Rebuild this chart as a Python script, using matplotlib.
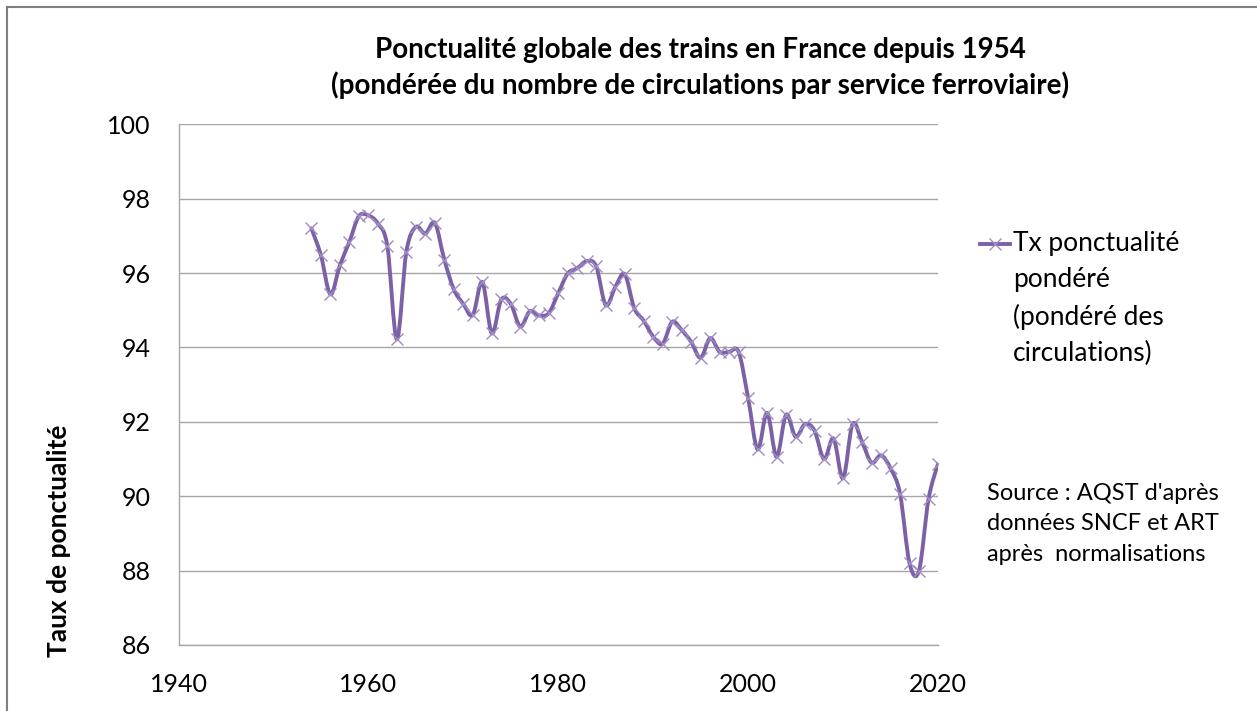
import numpy as np
import matplotlib
matplotlib.use("Agg")
import matplotlib.pyplot as plt
from matplotlib.path import Path
from matplotlib.patches import PathPatch
from matplotlib.lines import Line2D

# ---- data ----
years = list(range(1954, 2021))
values = [97.2, 96.48, 95.43, 96.21, 96.84, 97.53, 97.55, 97.33, 96.72, 94.22,
          96.57, 97.24, 97.06, 97.35, 96.36, 95.56, 95.17, 94.87, 95.76, 94.38,
          95.29, 95.17, 94.56, 94.97, 94.86, 94.92, 95.46, 95.99, 96.13, 96.32,
          96.18, 95.14, 95.62, 95.97, 95.06, 94.72, 94.29, 94.1, 94.69, 94.47,
          94.15, 93.72, 94.25, 93.88, 93.88, 93.88, 92.64, 91.26, 92.24, 91.06,
          92.19, 91.6, 91.94, 91.76, 91.0, 91.55, 90.48, 91.94, 91.46, 90.9,
          91.1, 90.75, 90.07, 88.2, 88.0, 89.92, 90.87]
series_label = "Tx ponctualité\npondéré\n(pondéré des\ncirculations)"
title = "Ponctualité globale des trains en France depuis 1954\n(pondérée du nombre de circulations par service ferroviaire)"
ylabel = "Taux de ponctualité"
source = "Source : AQST d'après\ndonnées SNCF et ART\naprès  normalisations"
xticks = [1940, 1960, 1980, 2000, 2020]
yticks = [86, 88, 90, 92, 94, 96, 98, 100]

LINE_COLOR = "#7B62A6"
MARK_COLOR = "#A08CC4"
FONT = "Lato"

plt.rcParams['font.family'] = [FONT, 'DejaVu Sans']

W, H = 1257, 711
fig = plt.figure(figsize=(W/100, H/100), dpi=100)
ax = fig.add_axes([178.5/W, 1-645/H, (938-178.5)/W, (645-124.3)/H])

# smoothed line (Catmull-Rom style Bezier like Excel smoothing)
x = np.array(years, dtype=float)
y = np.array(values, dtype=float)
n = len(x)
verts = [(x[0], y[0])]
codes = [Path.MOVETO]
for i in range(n - 1):
    p0 = np.array([x[max(i-1, 0)], y[max(i-1, 0)]])
    p1 = np.array([x[i], y[i]])
    p2 = np.array([x[i+1], y[i+1]])
    p3 = np.array([x[min(i+2, n-1)], y[min(i+2, n-1)]])
    c1 = p1 + (p2 - p0) / 6.0
    c2 = p2 - (p3 - p1) / 6.0
    verts += [tuple(c1), tuple(c2), tuple(p2)]
    codes += [Path.CURVE4] * 3
path = Path(verts, codes)
ax.add_patch(PathPatch(path, facecolor='none', edgecolor=LINE_COLOR, lw=2.8,
                       capstyle='round', joinstyle='round', zorder=3))
ax.plot(years, values, linestyle='none', marker='x', markersize=8,
        markeredgewidth=1.0, color=MARK_COLOR, zorder=4)

ax.set_xlim(1940, 2020)
ax.set_ylim(86, 100)
ax.set_xticks(xticks)
ax.set_yticks(yticks)
ax.tick_params(axis='both', length=0, labelsize=18, colors='black')
ax.tick_params(axis='x', pad=20)
ax.tick_params(axis='y', pad=20)
ax.grid(axis='y', color='#A6A6A6', lw=1.0)
ax.set_axisbelow(True)
for s in ['top', 'right']:
    ax.spines[s].set_visible(False)
for s in ['left', 'bottom']:
    ax.spines[s].set_color('#A6A6A6')
    ax.spines[s].set_linewidth(1.0)

ax.set_ylabel(ylabel, fontsize=19, fontweight='bold')
ax.yaxis.set_label_coords((71-178.5)/759.5, 0.2)

fig.text(700/W, 1-68/H, title, ha='center', va='center', fontsize=20,
         fontweight='bold', linespacing=1.4)

# legend (manual)
fig.add_artist(Line2D([980/W, 1010/W], [1-244/H, 1-244/H], color=LINE_COLOR, lw=2.8,
                      transform=fig.transFigure))
fig.add_artist(Line2D([995/W], [1-244/H], color=MARK_COLOR, marker='x', markersize=8,
                      markeredgewidth=1.0, linestyle='none', transform=fig.transFigure))
fig.text(1013/W, 1-231/H, series_label, ha='left', va='top', fontsize=19,
         linespacing=1.55)

fig.text(987/W, 1-483/H, source, ha='left', va='top', fontsize=17,
         linespacing=1.55)

# outer frame (top and left edges)
fig.add_artist(Line2D([7/W, 1.0], [1-7/H, 1-7/H], color='#7F7F7F', lw=1.5,
                      transform=fig.transFigure))
fig.add_artist(Line2D([7/W, 7/W], [0, 1-7/H], color='#7F7F7F', lw=1.5,
                      transform=fig.transFigure))

fig.savefig("out.png", dpi=100, facecolor='white')
